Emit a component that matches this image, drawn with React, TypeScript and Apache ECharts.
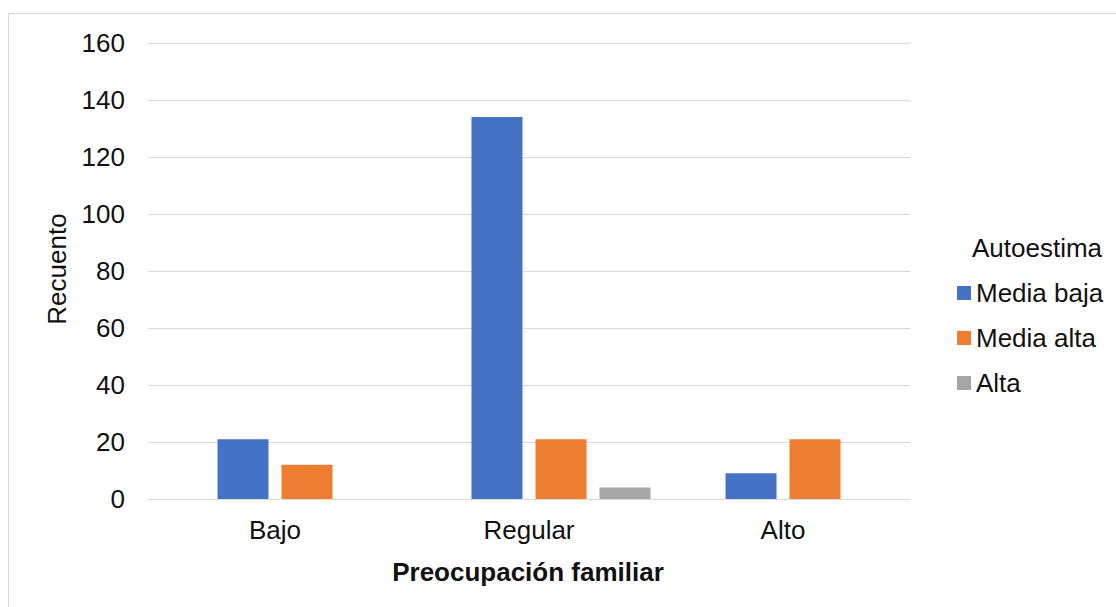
import React, { useEffect, useRef } from "react";
import * as echarts from "echarts";

const categories = ["Bajo", "Regular", "Alto"];
const seriesNames = ["Media baja", "Media alta", "Alta"];
const hiddenSeries: (number | null)[] = [null, null, null];
const mediaBaja = [21, 134, 9];
const mediaAlta = [12, 21, 21];
const alta: (number | null)[] = [null, 4, null];
const colors = ["#4472C4", "#ED7D31", "#A5A5A5"];

const FONT = "'Liberation Sans', Arial, sans-serif";
const FS = 26;

export default function App() {
  const ref = useRef<HTMLDivElement>(null);
  useEffect(() => {
    if (!ref.current) return;
    const chart = echarts.init(ref.current, null, { renderer: "svg" });
    const barCommon = { type: "bar" as const, barWidth: 51, barGap: "25.5%" };
    chart.setOption({
      animation: false,
      backgroundColor: "#ffffff",
      textStyle: { fontFamily: FONT },
      grid: { left: 148, right: 206, top: 43, bottom: 108, containLabel: false },
      xAxis: {
        type: "category",
        data: categories,
        axisLine: { lineStyle: { color: "#D9D9D9", width: 1 } },
        axisTick: { show: false },
        axisLabel: { color: "#111", fontSize: FS, fontFamily: FONT, margin: 18 },
      },
      yAxis: {
        type: "value",
        min: 0,
        max: 160,
        interval: 20,
        axisLine: { show: false },
        axisTick: { show: false },
        axisLabel: { color: "#111", fontSize: FS, fontFamily: FONT, margin: 23 },
        splitLine: { lineStyle: { color: "#D9D9D9", width: 1 } },
      },
      legend: {
        orient: "vertical",
        left: 952,
        top: 275,
        itemWidth: 14,
        itemHeight: 14,
        itemGap: 19,
        icon: "rect",
        data: seriesNames,
        textStyle: { color: "#111", fontSize: FS, fontFamily: FONT },
      },
      graphic: [
        {
          type: "line",
          shape: { x1: 8.5, y1: 13.5, x2: 8.5, y2: 607 },
          style: { stroke: "#D9D9D9", lineWidth: 1 },
        },
        {
          type: "line",
          shape: { x1: 8.5, y1: 13.5, x2: 1116, y2: 13.5 },
          style: { stroke: "#D9D9D9", lineWidth: 1 },
        },
        {
          type: "text",
          x: 972,
          y: 248,
          style: {
            text: "Autoestima",
            fill: "#111",
            font: `${FS}px ${FONT}`,
            textAlign: "left",
            textVerticalAlign: "middle",
          },
        },
        {
          type: "text",
          x: 528,
          y: 572,
          style: {
            text: "Preocupación familiar",
            fill: "#111",
            font: `bold ${FS}px ${FONT}`,
            textAlign: "center",
            textVerticalAlign: "middle",
          },
        },
        {
          type: "text",
          x: 57,
          y: 269,
          rotation: Math.PI / 2,
          style: {
            text: "Recuento",
            fill: "#111",
            font: `${FS}px ${FONT}`,
            textAlign: "center",
            textVerticalAlign: "middle",
          },
        },
      ],
      series: [
        { ...barCommon, name: "Baja", data: hiddenSeries, itemStyle: { color: "#5B9BD5" } },
        { ...barCommon, name: seriesNames[0], data: mediaBaja, itemStyle: { color: colors[0] } },
        { ...barCommon, name: seriesNames[1], data: mediaAlta, itemStyle: { color: colors[1] } },
        { ...barCommon, name: seriesNames[2], data: alta, itemStyle: { color: colors[2] } },
      ],
    });
    return () => chart.dispose();
  }, []);
  return (
    <div
      ref={ref}
      style={{ position: "absolute", left: 0, top: 0, width: 1116, height: 607 }}
    />
  );
}
